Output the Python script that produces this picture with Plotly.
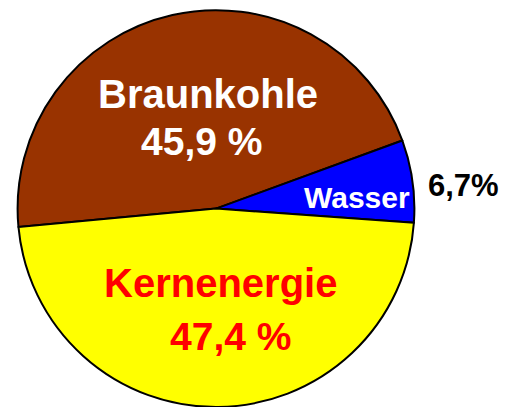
import plotly.graph_objects as go

# Data
labels = ["Braunkohle", "Wasser", "Kernenergie"]
values = [45.9, 6.7, 47.4]
colors = ["#993300", "#0000FF", "#FFFF00"]
value_texts = ["45,9 %", "6,7%", "47,4 %"]

W, H = 521, 407

fig = go.Figure(
    go.Pie(
        labels=labels,
        values=values,
        sort=False,
        direction="clockwise",
        rotation=-95.3,
        marker=dict(colors=colors, line=dict(color="black", width=2)),
        textinfo="none",
        hoverinfo="none",
        showlegend=False,
        domain=dict(x=[17.6 / W, 414.4 / W], y=[0.0, 0.975]),
    )
)

FONT = "Liberation Sans, Arial, sans-serif"


def px(x, y):
    return x / W, 1 - y / H


ann = []
# (text, x, y, color, size)
specs = [
    (labels[0], 207.5, 92.5, "white", 40),
    (value_texts[0], 201.5, 140.8, "white", 39),
    (labels[2], 220.5, 281.7, "#FF0000", 40),
    (value_texts[2], 230.8, 335.0, "#FF0000", 39),
    (labels[1], 356.7, 197.0, "white", 30),
    (value_texts[1], 463.3, 185.0, "black", 31),
]
for t, x, y, c, s in specs:
    xp, yp = px(x, y + 0.03 * s)
    ann.append(
        dict(
            text="<b>" + t + "</b>",
            x=xp,
            y=yp,
            xref="paper",
            yref="paper",
            xanchor="center",
            yanchor="middle",
            showarrow=False,
            font=dict(family=FONT, size=s, color=c),
        )
    )

fig.update_layout(
    width=W,
    height=H,
    margin=dict(l=0, r=0, t=0, b=0),
    paper_bgcolor="white",
    plot_bgcolor="white",
    annotations=ann,
)

fig.write_html(
    "out.html",
    config={"displayModeBar": False},
    post_script="document.body.style.margin='0';document.body.style.overflow='hidden';",
)
